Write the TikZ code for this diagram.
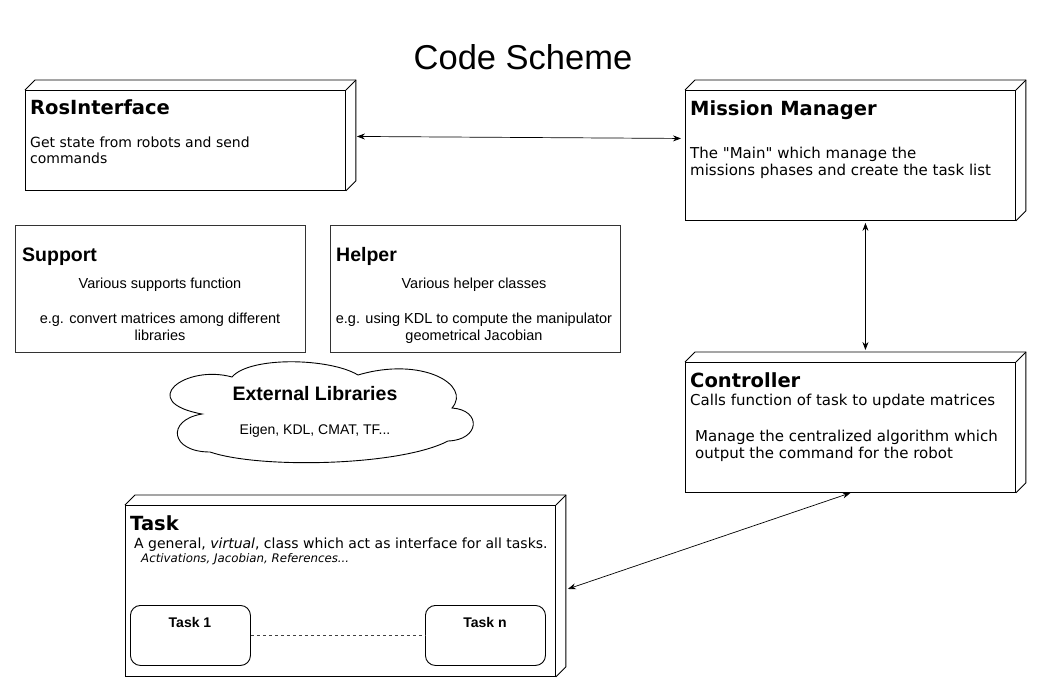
\documentclass[tikz,border=0pt]{standalone}
\usepackage{fontspec}
\setmainfont{DejaVu Sans}[Ligatures=TeXOff]
\newfontfamily\hfont{Liberation Sans}
\usetikzlibrary{arrows.meta}
\newcommand\cubesides[1]{%
  \draw[boxline] (#1.north west) -- ++(10,-10) -- ([shift={(10,-10)}]#1.north east) -- ([shift={(10,-10)}]#1.south east) -- (#1.south east);
  \draw[boxline] (#1.north east) -- ++(10,-10);}
\newcommand\titlefont{\fontsize{19.5}{23}\selectfont\bfseries}
\newcommand\bodyfont{\fontsize{14}{17}\selectfont}
\newcommand\bigbody{\fontsize{15}{18}\selectfont}
\newcommand\hbody{\hfont\fontsize{14.5}{17}\selectfont}
\newcommand\htitle{\hfont\fontsize{19.5}{23}\selectfont\bfseries}
\begin{document}
\begin{tikzpicture}[x=1pt,y=-1pt,
  boxline/.style={line width=0.9pt, black},
  front/.style={draw, boxline, anchor=north west, inner sep=0pt},
  plain/.style={draw, line width=0.9pt, black!80, anchor=north west, inner sep=0pt},
  rbox/.style={draw, line width=0.9pt, black, rounded corners=10pt, anchor=north west, inner sep=0pt, minimum width=120pt, minimum height=60pt},
  tl/.style={anchor=base west, inner sep=0pt},
  tc/.style={anchor=base, inner sep=0pt},
  arr/.style={line width=0.7pt, {Stealth[length=8pt,width=6pt]}-{Stealth[length=8pt,width=6pt]}}]
\useasboundingbox (0,0) rectangle (1041,691);
\fill[white] (0,0) rectangle (1041,691);

\node[tc, font=\hfont\fontsize{34.5}{40}\selectfont] (title) at (523,69) {Code Scheme};

% RosInterface
\node[front, minimum width=320pt, minimum height=100pt] (ros) at (25,90) {};
\cubesides{ros}
\node[tl, font=\titlefont] (rost) at (30,114) {RosInterface};
\node[tl, font=\bodyfont] (rosa) at (30,147) {Get state from robots and send};
\node[tl, font=\bodyfont] (rosb) at (30,163.5) {commands};

% Mission Manager
\node[front, minimum width=330pt, minimum height=130pt] (mm) at (685,90) {};
\cubesides{mm}
\node[tl, font=\titlefont] (mmt) at (690,115) {Mission Manager};
\node[tl, font=\bigbody] (mma) at (690,158) {The "Main" which manage the};
\node[tl, font=\bigbody] (mmb) at (690,175) {missions phases and create the task list};

% Controller
\node[front, minimum width=330pt, minimum height=130pt] (ctrl) at (685,362) {};
\cubesides{ctrl}
\node[tl, font=\titlefont] (ctrlt) at (690,387) {Controller};
\node[tl, font=\bigbody] (ctrla) at (690,405) {Calls function of task to update matrices};
\node[tl, font=\bigbody] (ctrlb) at (695,441) {Manage the centralized algorithm which};
\node[tl, font=\bigbody] (ctrlc) at (695,458) {output the command for the robot};

% Task
\node[front, minimum width=430pt, minimum height=171pt] (task) at (125,505) {};
\cubesides{task}
\node[tl, font=\titlefont] (taskt) at (130,530) {Task};
\node[tl, font=\bodyfont] (taska) at (134,548) {A general, \textit{virtual}, class which act as interface for all tasks.};
\node[tl, font=\fontsize{11.8}{14}\selectfont\itshape] (taskb) at (141,562) {Activations, Jacobian, References...};
\node[rbox] (t1) at (130,605) {};
\node[rbox] (tn) at (425,605) {};
\node[tc, font=\hfont\fontsize{14}{17}\selectfont\bfseries] (t1l) at (190,627) {Task 1};
\node[tc, font=\hfont\fontsize{14}{17}\selectfont\bfseries] (tnl) at (485,627) {Task n};
\draw[line width=0.9pt, black!75, dash pattern=on 3pt off 3pt] (t1.east) -- (tn.west);

% Support
\node[plain, minimum width=290pt, minimum height=127pt] (sup) at (15,225) {};
\node[tl, font=\htitle] (supt) at (22,261) {Support};
\node[tc, font=\hbody] (supa) at (160,288) {Various supports function};
\node[tc, font=\hbody] (supb) at (160,323) {e.g. convert matrices among different};
\node[tc, font=\hbody] (supc) at (160,340) {libraries};

% Helper
\node[plain, minimum width=290pt, minimum height=127pt] (hlp) at (330,225) {};
\node[tl, font=\htitle] (hlpt) at (336,261) {Helper};
\node[tc, font=\hbody] (hlpa) at (474,288) {Various helper classes};
\node[tc, font=\hbody] (hlpb) at (474,323) {e.g. using KDL to compute the manipulator};
\node[tc, font=\hbody] (hlpc) at (474,340) {geometrical Jacobian};

% Cloud
\draw[line width=0.9pt, black]
  (232,377) .. controls (185,364) and (136,402) .. (202,414)
  .. controls (166,420) and (170,452) .. (210,452)
  .. controls (260,469) and (400,466) .. (448,441)
  .. controls (480,440) and (482,410) .. (452,408)
  .. controls (472,385) and (422,356) .. (358,375)
  .. controls (330,358) and (250,356) .. (232,377) -- cycle;
\node[tc, font=\htitle] (extt) at (315,400) {External Libraries};
\node[tc, font=\hfont\fontsize{14}{17}\selectfont] (exta) at (315,434) {Eigen, KDL, CMAT, TF...};

% Connectors
\draw[arr] ([xshift=11pt,yshift=4pt]ros.east) -- ([xshift=-4pt,yshift=17pt]mm.west);
\draw[arr] ([xshift=15pt,yshift=-2pt]mm.south) -- ([xshift=15pt,yshift=12pt]ctrl.north);
\draw[arr] (ctrl.south) -- ([xshift=12pt,yshift=2pt]task.east);
\end{tikzpicture}
\end{document}
